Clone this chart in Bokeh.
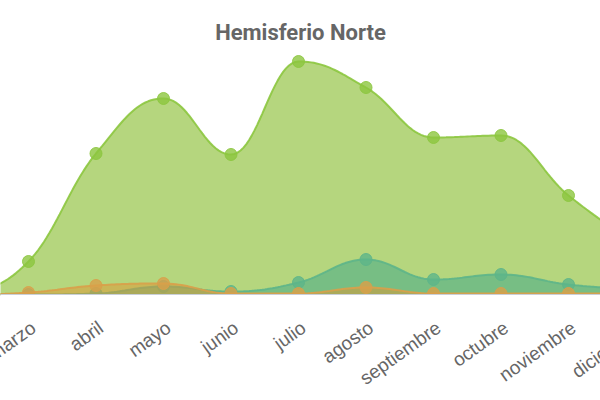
import numpy as np
from bokeh.plotting import figure
from bokeh.models import Range1d, Span, BoxAnnotation
from bokeh.core.properties import value
from bokeh.embed import file_html
from bokeh.resources import INLINE

# ---- data ----
months = ["enero", "febrero", "marzo", "abril", "mayo", "junio", "julio",
          "agosto", "septiembre", "octubre", "noviembre", "diciembre"]
serie_verde = [0, 3, 33, 141, 196, 140, 233, 207, 157, 159, 99, 50]
serie_turquesa = [0, 0, 0, 1, 8, 3, 12, 35, 15, 20, 10, 5]
serie_naranja = [0, 0, 2, 9, 11, 1, 1, 7, 1, 1, 1, 1]

colors = {
    "verde": ("#b5d67e", 1.0, "#8cc63f"),
    "turquesa": ("#3aa58a", 0.5, "#5db58a"),
    "naranja": ("#e0952f", 0.5, "#d9a04a"),
}

ANGLE = 0.62
LABEL_SIZE = "19px"
X_START, X_END = 1.5852, 10.474


def controls(xs, ys, i):
    n = len(xs)
    x, y = xs[i], ys[i]
    if i == 0 or i == n - 1:
        return (x, y), (x, y)
    s, d = 1.5, 2.5
    lx, ly, nx, ny = xs[i - 1], ys[i - 1], xs[i + 1], ys[i + 1]
    lcx = (s * x + lx) / d
    lcy = (s * y + ly) / d
    rcx = (s * x + nx) / d
    rcy = (s * y + ny) / d
    if rcx != lcx:
        corr = ((rcy - lcy) * (rcx - x)) / (rcx - lcx) + y - rcy
        lcy += corr
        rcy += corr
    if lcy > max(ly, y):
        lcy = max(ly, y); rcy = 2 * y - lcy
    elif lcy < min(ly, y):
        lcy = min(ly, y); rcy = 2 * y - lcy
    if rcy > max(ny, y):
        rcy = max(ny, y); lcy = 2 * y - rcy
    elif rcy < min(ny, y):
        rcy = min(ny, y); lcy = 2 * y - rcy
    return (lcx, lcy), (rcx, rcy)


def spline(xs, ys, steps=24):
    ctr = [controls(xs, ys, i) for i in range(len(xs))]
    outx, outy = [xs[0]], [ys[0]]
    t = np.linspace(0, 1, steps + 1)[1:]
    for i in range(1, len(xs)):
        p0 = np.array([xs[i - 1], ys[i - 1]])
        p1 = np.array(ctr[i - 1][1])
        p2 = np.array(ctr[i][0])
        p3 = np.array([xs[i], ys[i]])
        for tt in t:
            pt = ((1 - tt) ** 3) * p0 + 3 * ((1 - tt) ** 2) * tt * p1 + 3 * (1 - tt) * tt ** 2 * p2 + tt ** 3 * p3
            outx.append(pt[0]); outy.append(pt[1])
    return np.array(outx), np.array(outy)


p = figure(width=600, height=400, output_backend="svg", toolbar_location=None,
           x_range=Range1d(X_START, X_END), y_range=Range1d(-106, 244),
           min_border_left=0, min_border_right=0, min_border_top=50,
           min_border_bottom=0, title="Hemisferio Norte")
p.title.align = "center"
p.title.text_font = "Roboto"
p.title.text_font_size = "22px"
p.title.text_font_style = "bold"
p.title.text_color = "#666666"
p.title.standoff = 12

p.xaxis.visible = False
p.yaxis.visible = False
p.grid.visible = False
p.outline_line_color = None

xs = list(range(len(months)))
for name, vals in [("verde", serie_verde), ("turquesa", serie_turquesa), ("naranja", serie_naranja)]:
    fill, alpha, line = colors[name]
    cx, cy = spline(xs, vals)
    p.varea(x=cx, y1=0, y2=cy, fill_color=fill, fill_alpha=alpha)
    p.line(cx, cy, line_color=line, line_width=2, line_alpha=0.9)
    p.scatter(xs, vals, size=12, fill_color=line, line_color=line, fill_alpha=0.8, line_alpha=0.9)

# the plot area ends at the baseline: hide what falls below it
p.add_layout(BoxAnnotation(top=0, fill_color="white", fill_alpha=1.0, line_color=None))
p.add_layout(Span(location=0, dimension="width", line_color="#c9cfd8", line_width=1))

# category axis labels (only those whose tick is near the visible range)
lab_x = [i for i in xs if X_START - 0.5 <= i <= X_END + 1]
lab_t = [months[i] for i in lab_x]
p.text(x=lab_x, y=[0] * len(lab_x), text=lab_t, angle=ANGLE,
       text_align="right", text_baseline="middle", x_offset=5, y_offset=31,
       text_font=value("Liberation Sans"), text_font_size=LABEL_SIZE,
       text_color="#666666", level="overlay")

open("out.html", "w").write(file_html(p, INLINE))
